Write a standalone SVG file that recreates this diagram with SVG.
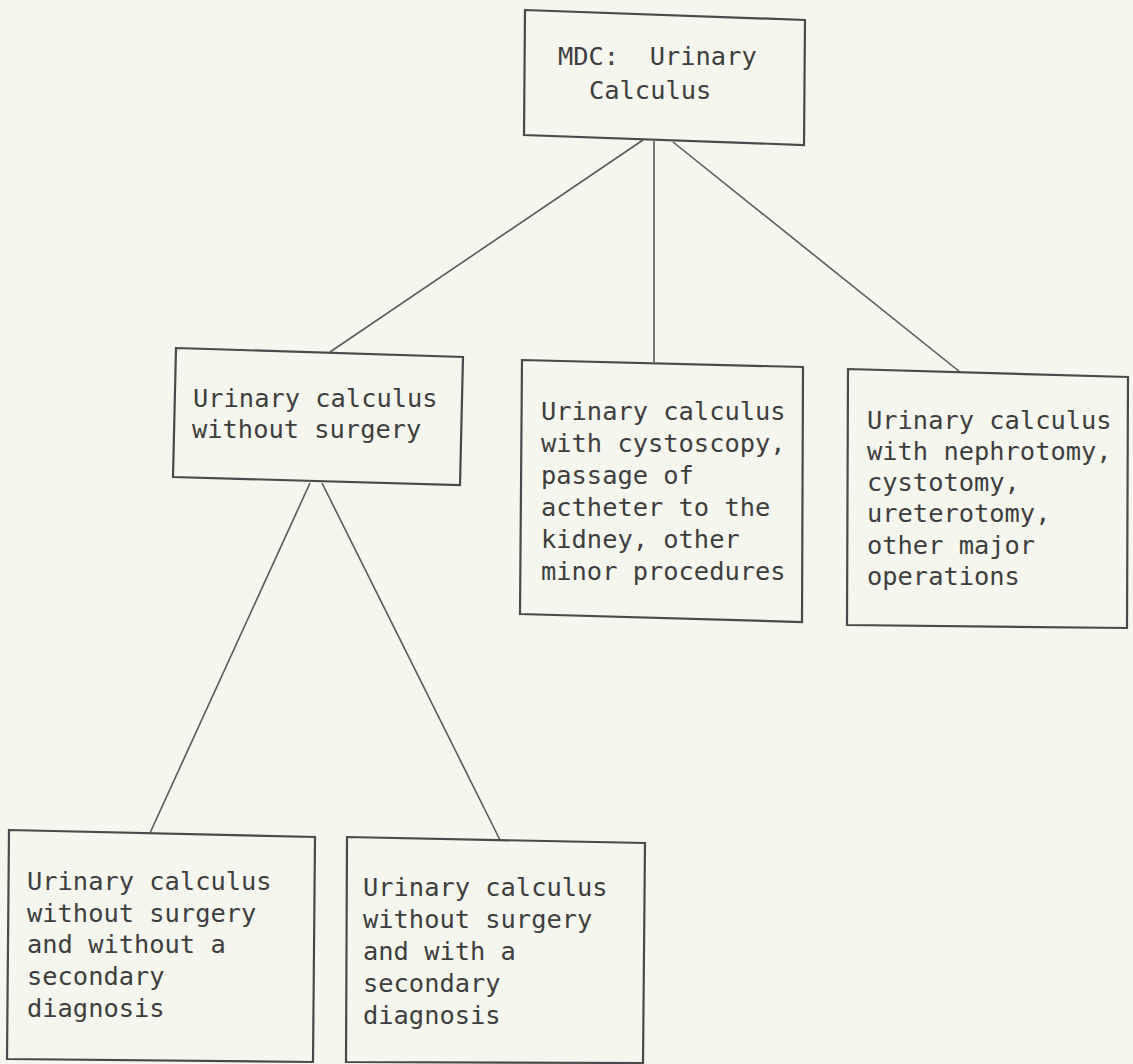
<svg xmlns="http://www.w3.org/2000/svg" width="1133" height="1064" viewBox="0 0 1133 1064">
<style>
.bg{fill:#f5f6ee}
.box{fill:none;stroke:#4a4a4a;stroke-width:2.2;stroke-linejoin:miter}
.conn line{stroke:#5a5a5a;stroke-width:1.6;fill:none}
.t{font-family:"DejaVu Sans Mono","Liberation Mono",monospace;font-size:25.4px;fill:#3e3e3e}
</style>
<rect class="bg" x="0" y="0" width="1133" height="1064"/>
<g id="connectors" class="conn">
<line x1="643" y1="140" x2="330" y2="352"/>
<line x1="654" y1="141" x2="654" y2="362"/>
<line x1="673" y1="142" x2="960" y2="372"/>
<line x1="310" y1="483" x2="150" y2="833"/>
<line x1="322" y1="483" x2="500" y2="840"/>
</g>
<g id="node-mdc">
<path class="box" d="M525,10 L805,20 L804,145 L524,135 Z"/>
<text class="t" x="558" y="65" xml:space="preserve">MDC:  Urinary</text>
<text class="t" x="589" y="99">Calculus</text>
</g>
<g id="node-without-surgery">
<path class="box" d="M176,348 L463,357 L460,485 L173,477 Z"/>
<text class="t" x="193" y="407">Urinary calculus</text>
<text class="t" x="192" y="438">without surgery</text>
</g>
<g id="node-minor">
<path class="box" d="M522,360 L803,367 L802,622 L520,614 Z"/>
<text class="t" x="541" y="420">Urinary calculus</text>
<text class="t" x="541" y="452">with cystoscopy,</text>
<text class="t" x="541" y="484">passage of</text>
<text class="t" x="541" y="516">actheter to the</text>
<text class="t" x="541" y="548">kidney, other</text>
<text class="t" x="541" y="580">minor procedures</text>
</g>
<g id="node-major">
<path class="box" d="M848,369 L1128,377 L1127,628 L847,625 Z"/>
<text class="t" x="867" y="429">Urinary calculus</text>
<text class="t" x="867" y="460">with nephrotomy,</text>
<text class="t" x="867" y="491">cystotomy,</text>
<text class="t" x="867" y="522">ureterotomy,</text>
<text class="t" x="867" y="554">other major</text>
<text class="t" x="867" y="585">operations</text>
</g>
<g id="node-no-secondary">
<path class="box" d="M9,830 L315,837 L313,1062 L7,1059 Z"/>
<text class="t" x="27" y="890">Urinary calculus</text>
<text class="t" x="27" y="922">without surgery</text>
<text class="t" x="27" y="953">and without a</text>
<text class="t" x="27" y="985">secondary</text>
<text class="t" x="27" y="1017">diagnosis</text>
</g>
<g id="node-secondary">
<path class="box" d="M347,837 L645,843 L643,1063 L346,1062 Z"/>
<text class="t" x="363" y="896">Urinary calculus</text>
<text class="t" x="363" y="928">without surgery</text>
<text class="t" x="363" y="960">and with a</text>
<text class="t" x="363" y="992">secondary</text>
<text class="t" x="363" y="1024">diagnosis</text>
</g>
</svg>
